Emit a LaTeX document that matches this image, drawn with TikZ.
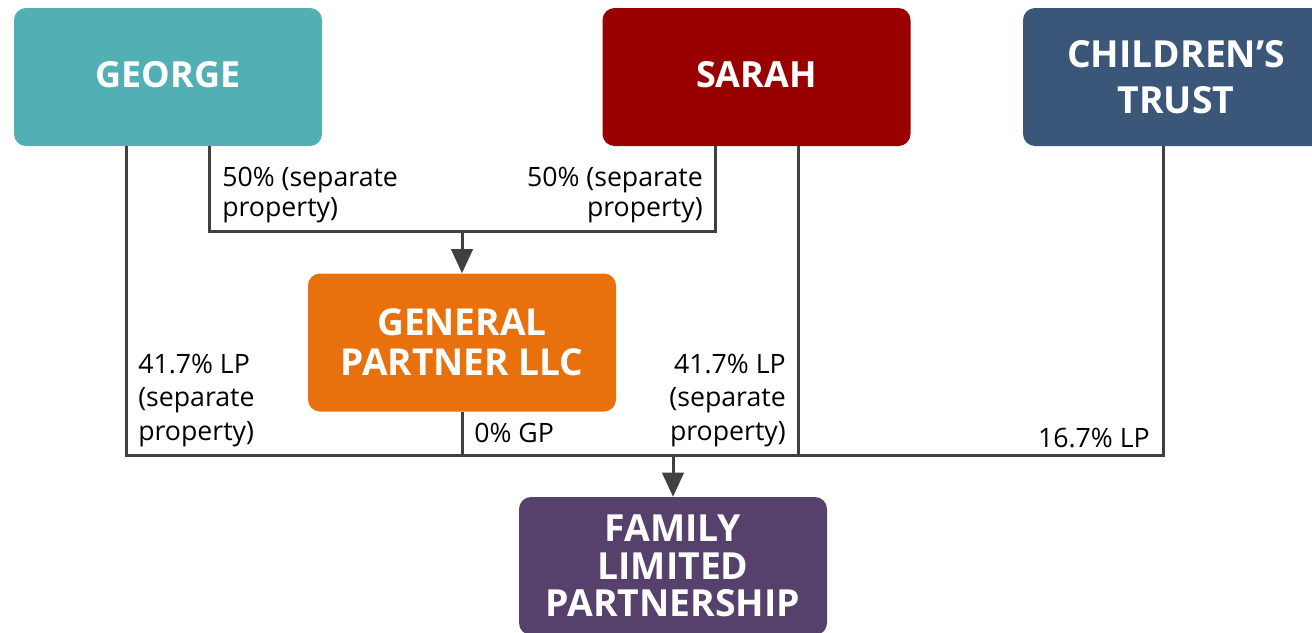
\documentclass[tikz,border=0pt]{standalone}
\usepackage{fontspec}
\setmainfont{Open Sans}
\usetikzlibrary{arrows.meta}
\definecolor{cgeorge}{HTML}{52AFB4}
\definecolor{csarah}{HTML}{990000}
\definecolor{ctrust}{HTML}{3A5779}
\definecolor{cgp}{HTML}{E8710E}
\definecolor{cflp}{HTML}{55416B}
\definecolor{clink}{HTML}{404040}
\begin{document}
\begin{tikzpicture}[x=0.75pt,y=-0.75pt,
  box/.style={rounded corners=9pt, minimum width=231pt, minimum height=103.5pt,
    text=white, align=center, inner sep=0pt},
  link/.style={draw=clink, line width=2.25pt},
  arr/.style={link, -{Triangle[width=16pt,length=18pt]}},
  lbl/.style={inner sep=0pt, text=black}]
\useasboundingbox (0,0) rectangle (1312,632);
% boxes
\node[box, fill=cgeorge, text depth=4pt, font=\fontsize{27}{34}\bfseries\selectfont] (g) at (168,77) {GEORGE};
\node[box, fill=csarah, text depth=4pt, font=\fontsize{27}{34}\bfseries\selectfont] (s) at (756.5,77) {SARAH};
\node[box, fill=ctrust, minimum width=229.5pt, font=\fontsize{28}{34}\bfseries\selectfont] (t) at (1176,77) {CHILDREN’S\\TRUST};
\node[box, fill=cgp, font=\fontsize{27.8}{30}\bfseries\selectfont] (gp) at (462,342.5) {GENERAL\\PARTNER LLC};
\node[box, fill=cflp, font=\fontsize{28}{28}\bfseries\selectfont] (f) at (673,566) {FAMILY\\LIMITED\\PARTNERSHIP};
% junction coordinates
\coordinate (gl) at (126,455);
\coordinate (gr) at (209,231);
\coordinate (sr) at (715,231);
\coordinate (gpin) at (462,231);
\coordinate (gpout) at (462,455);
\coordinate (sl) at (798,455);
\coordinate (tl) at (1163,455);
\coordinate (fin) at (673,455);
% connectors
\draw[link] (g.south -| gl) -- (gl) -| (t.south -| tl);
\draw[link] (g.south -| gr) |- (sr) -- (s.south -| sr);
\draw[link] (s.south -| sl) -- (sl);
\draw[link] (gp.south -| gpout) -- (gpout);
\draw[arr] (gpin) -- (gp.north);
\draw[arr] (fin) -- (f.north);
% labels
\node[lbl, anchor=base west, align=left, font=\fontsize{20}{22}\selectfont] (l1) at (222,216) {50\% (separate\\property)};
\node[lbl, anchor=base east, align=right, font=\fontsize{20}{22}\selectfont] (l2) at (703,216) {50\% (separate\\property)};
\node[lbl, anchor=base west, align=left, font=\fontsize{20}{25}\selectfont] (l3) at (138,440) {41.7\% LP\\(separate\\property)};
\node[lbl, anchor=base east, align=right, font=\fontsize{20}{25}\selectfont] (l4) at (786,440) {41.7\% LP\\(separate\\property)};
\node[lbl, anchor=base west, font=\fontsize{20}{22}\selectfont] (l5) at (474,442) {0\% GP};
\node[lbl, anchor=base east, font=\fontsize{20}{22}\selectfont] (l6) at (1150,447) {16.7\% LP};
\end{tikzpicture}
\end{document}
